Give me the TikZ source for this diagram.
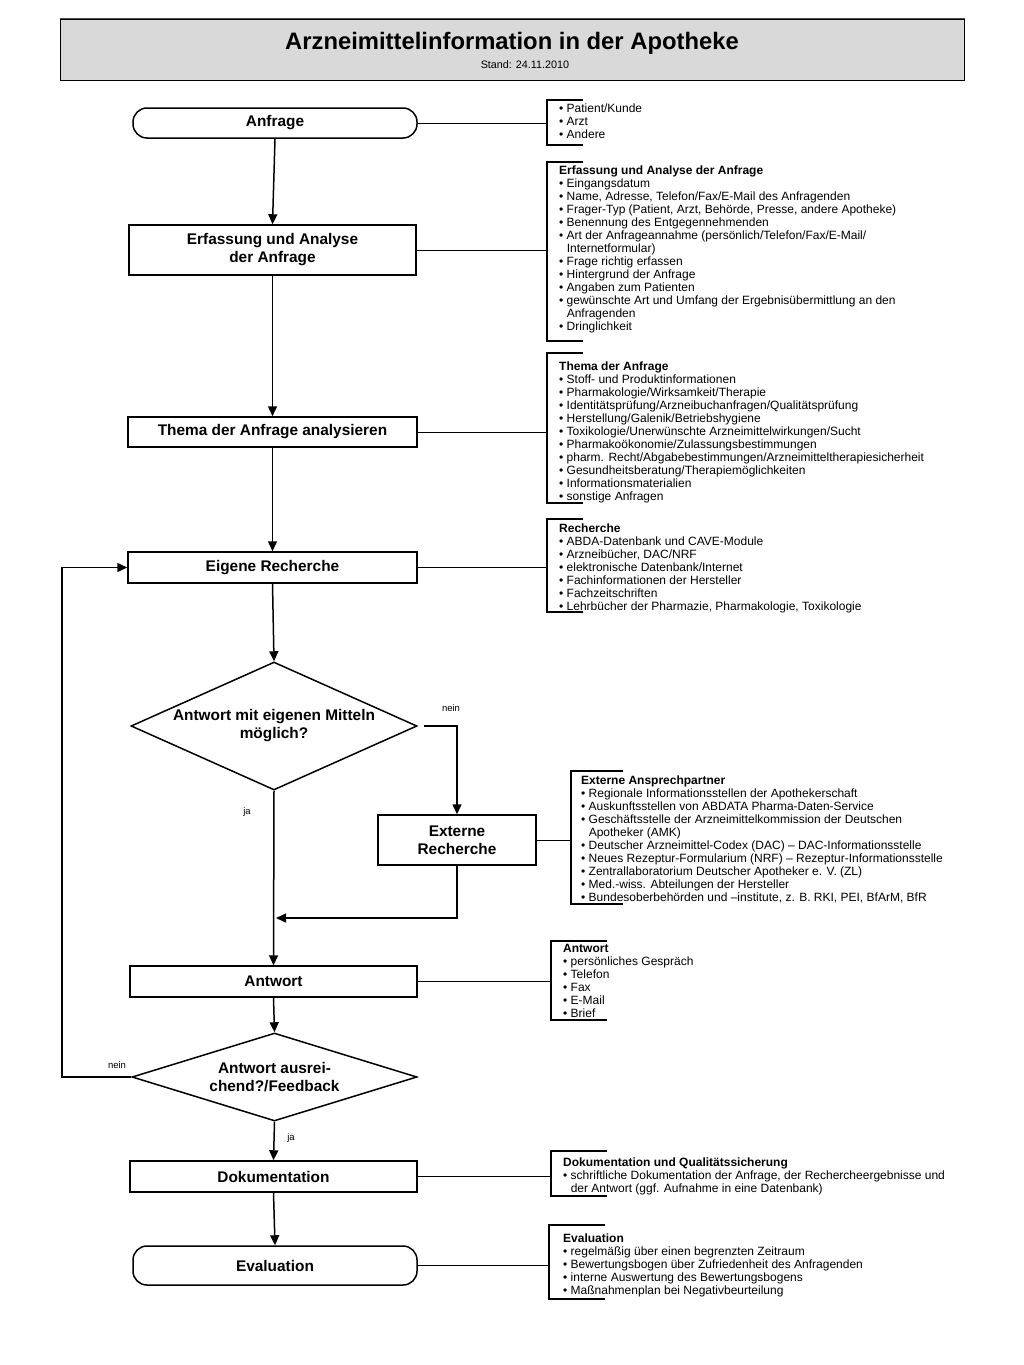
\documentclass[tikz,border=0pt]{standalone}
\usepackage{fontspec}
\setmainfont{Liberation Sans}
\usetikzlibrary{arrows.meta,shapes.geometric}
\newcommand\bul{\textbullet\ }
\newcommand\ctd{\hspace*{7.6pt}}
\newcommand\brk[4]{\draw[brkline] ({#1+#4},-#2) -- (#1,-#2) -- (#1,-#3) -- ({#1+#4},-#3);}
\tikzset{
  x=1pt, y=1pt,
  mainbox/.style={draw, line width=1.5pt, inner sep=0pt, align=center, fill=white,
    font=\fontsize{15.4}{18}\selectfont\bfseries},
  termbox/.style={mainbox, rounded corners=14pt},
  decision/.style={mainbox, diamond, inner sep=0pt},
  arr/.style={line width=1.5pt, -{Triangle[length=10pt,width=9pt]}},
  conn/.style={line width=1pt},
  brkline/.style={line width=1.3pt},
  brktext/.style={anchor=north west, inner sep=0pt, align=left, font=\fontsize{12}{13}\selectfont},
  lbl/.style={inner sep=0pt, font=\fontsize{9.5}{10}\selectfont},
}
\begin{document}
\begin{tikzpicture}
\useasboundingbox (0,0) rectangle (1023,-1365);
\fill[white] (0,0) rectangle (1023,-1365);

% title
\node[draw, line width=1pt, fill=gray!30, minimum width=904pt, minimum height=61pt, inner sep=0pt] (titlebox) at (512,-49.5) {};
\draw[line width=1.6pt, black!70] (titlebox.north west) -- (titlebox.north east);
\node[anchor=base, inner sep=0pt, font=\fontsize{23.8}{26}\selectfont\bfseries] (title) at (512,-49.6) {Arzneimittelinformation in der Apotheke};
\node[anchor=base, inner sep=0pt, font=\fontsize{10.8}{13}\selectfont] (stand) at (525,-68) {Stand: 24.11.2010};

% main column
\node[termbox, minimum width=284pt, minimum height=30pt] (anf) at (275,-123) {Anfrage};
\node[mainbox, minimum width=287pt, minimum height=50pt] (erf) at (272.5,-250) {Erfassung und Analyse\\der Anfrage};
\node[mainbox, minimum width=289pt, minimum height=30pt] (thema) at (272.5,-432) {Thema der Anfrage analysieren};
\node[mainbox, minimum width=289pt, minimum height=31pt] (eig) at (272.5,-567.5) {Eigene Recherche};
\node[decision, aspect=2.23, minimum width=286pt, minimum height=128pt] (d1) at (274,-726) {Antwort mit eigenen Mitteln\\möglich?};
\node[mainbox, minimum width=158pt, minimum height=50pt] (ext) at (457,-840) {Externe\\Recherche};
\node[mainbox, minimum width=287pt, minimum height=31pt] (antw) at (273.5,-981.5) {Antwort};
\node[decision, aspect=3.24, minimum width=285pt, minimum height=88pt] (d2) at (274.5,-1077) {Antwort ausrei-\\chend?/Feedback};
\node[mainbox, minimum width=287pt, minimum height=31pt] (dok) at (273.5,-1176.5) {Dokumentation};
\node[termbox, minimum width=284pt, minimum height=39pt] (eval) at (275,-1265.5) {Evaluation};

% flow arrows
\draw[arr] (anf.south) -- (erf.north);
\draw[arr] (erf.south) -- (thema.north);
\draw[arr] (thema.south) -- (eig.north);
\draw[arr] (eig.south) -- (d1.north);
\coordinate (nj) at (457,-726);
\draw[arr] ([xshift=6pt]d1.east) -- (nj) -- (ext.north);
\draw[arr] (d1.south) -- (antw.north);
\coordinate (mx) at (457,-918);
\coordinate (mj) at (276,-918);
\draw[arr] (ext.south) -- (mx) -- (mj);
\draw[arr] (antw.south) -- (d2.north);
\coordinate (lb) at (62,-1077);
\coordinate (lt) at (62,-567.5);
\draw[arr] (d2.west) -- (lb) -- (lt) -- (eig.west);
\draw[arr] (d2.south) -- (dok.north);
\draw[arr] (dok.south) -- (eval.north);

% labels
\node[lbl] (l1) at (451,-708) {nein};
\node[lbl] (l2) at (247,-812) {ja};
\node[lbl] (l3) at (117,-1065) {nein};
\node[lbl] (l4) at (291,-1138) {ja};

% brackets
\brk{547}{100}{145}{36}
\brk{547}{162}{341}{36}
\brk{547}{353}{503}{36}
\brk{547}{519}{612}{36}
\brk{571}{771}{904}{52}
\brk{551}{941}{1020}{56}
\brk{551}{1151}{1196}{56}
\brk{549}{1225}{1299}{56}

\coordinate (b1) at (547,-123);
\coordinate (b2) at (547,-250);
\coordinate (b3) at (547,-432);
\coordinate (b4) at (547,-567.5);
\coordinate (b5) at (571,-840);
\coordinate (b6) at (551,-981.5);
\coordinate (b7) at (551,-1176.5);
\coordinate (b8) at (549,-1265.5);
\draw[conn] (anf.east) -- (b1);
\draw[conn] (erf.east) -- (b2);
\draw[conn] (thema.east) -- (b3);
\draw[conn] (eig.east) -- (b4);
\draw[conn] (ext.east) -- (b5);
\draw[conn] (antw.east) -- (b6);
\draw[conn] (dok.east) -- (b7);
\draw[conn] (eval.east) -- (b8);

\node[brktext] (t1) at (559,-103) {\strut\bul Patient/Kunde\\\bul Arzt\\\bul Andere};
\node[brktext] (t2) at (559,-165) {\strut\textbf{Erfassung und Analyse der Anfrage}\\
\bul Eingangsdatum\\
\bul Name, Adresse, Telefon/Fax/E-Mail des Anfragenden\\
\bul Frager-Typ (Patient, Arzt, Behörde, Presse, andere Apotheke)\\
\bul Benennung des Entgegennehmenden\\
\bul Art der Anfrageannahme (persönlich/Telefon/Fax/E-Mail/\\
\ctd Internetformular)\\
\bul Frage richtig erfassen\\
\bul Hintergrund der Anfrage\\
\bul Angaben zum Patienten\\
\bul gewünschte Art und Umfang der Ergebnisübermittlung an den\\
\ctd Anfragenden\\
\bul Dringlichkeit};
\node[brktext] (t3) at (559,-361) {\strut\textbf{Thema der Anfrage}\\
\bul Stoff- und Produktinformationen\\
\bul Pharmakologie/Wirksamkeit/Therapie\\
\bul Identitätsprüfung/Arzneibuchanfragen/Qualitätsprüfung\\
\bul Herstellung/Galenik/Betriebshygiene\\
\bul Toxikologie/Unerwünschte Arzneimittelwirkungen/Sucht\\
\bul Pharmakoökonomie/Zulassungsbestimmungen\\
\bul pharm. Recht/Abgabebestimmungen/Arzneimitteltherapiesicherheit\\
\bul Gesundheitsberatung/Therapiemöglichkeiten\\
\bul Informationsmaterialien\\
\bul sonstige Anfragen};
\node[brktext] (t4) at (559,-523) {\strut\textbf{Recherche}\\
\bul ABDA-Datenbank und CAVE-Module\\
\bul Arzneibücher, DAC/NRF\\
\bul elektronische Datenbank/Internet\\
\bul Fachinformationen der Hersteller\\
\bul Fachzeitschriften\\
\bul Lehrbücher der Pharmazie, Pharmakologie, Toxikologie};
\node[brktext] (t5) at (581,-775) {\strut\textbf{Externe Ansprechpartner}\\
\bul Regionale Informationsstellen der Apothekerschaft\\
\bul Auskunftsstellen von ABDATA Pharma-Daten-Service\\
\bul Geschäftsstelle der Arzneimittelkommission der Deutschen\\
\ctd Apotheker (AMK)\\
\bul Deutscher Arzneimittel-Codex (DAC) – DAC-Informationsstelle\\
\bul Neues Rezeptur-Formularium (NRF) – Rezeptur-Informationsstelle\\
\bul Zentrallaboratorium Deutscher Apotheker e. V. (ZL)\\
\bul Med.-wiss. Abteilungen der Hersteller\\
\bul Bundesoberbehörden und –institute, z. B. RKI, PEI, BfArM, BfR};
\node[brktext] (t6) at (563,-943) {\strut\textbf{Antwort}\\
\bul persönliches Gespräch\\
\bul Telefon\\
\bul Fax\\
\bul E-Mail\\
\bul Brief};
\node[brktext] (t7) at (563,-1157) {\strut\textbf{Dokumentation und Qualitätssicherung}\\
\bul schriftliche Dokumentation der Anfrage, der Rechercheergebnisse und\\
\ctd der Antwort (ggf. Aufnahme in eine Datenbank)};
\node[brktext] (t8) at (563,-1233) {\strut\textbf{Evaluation}\\
\bul regelmäßig über einen begrenzten Zeitraum\\
\bul Bewertungsbogen über Zufriedenheit des Anfragenden\\
\bul interne Auswertung des Bewertungsbogens\\
\bul Maßnahmenplan bei Negativbeurteilung};
\end{tikzpicture}
\end{document}
